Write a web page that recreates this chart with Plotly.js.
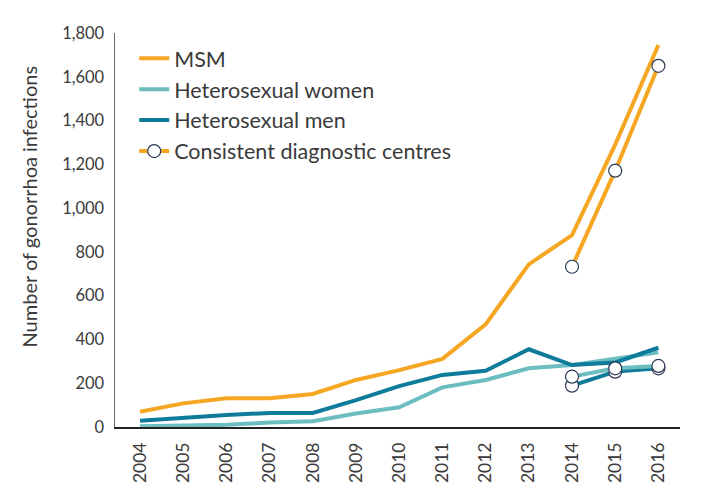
<!DOCTYPE html>
<html>
<head>
<meta charset="utf-8">
<script src="https://cdn.plot.ly/plotly-3.0.1.min.js"></script>
<style>html,body{margin:0;padding:0;background:#fff;}#chart{width:703px;height:499px;}</style>
</head>
<body>
<div id="chart"></div>
<script>
const years = [2004,2005,2006,2007,2008,2009,2010,2011,2012,2013,2014,2015,2016];
const msm = [70,108,131,131,151,215,260,311,469,743,877,1290,1745];
const heteroWomen = [3,6,10,20,26,62,90,181,215,268,283,312,341];
const heteroMen = [29,44,55,64,64,123,187,238,257,355,283,295,362];
const consistentYears = [2014,2015,2016];
const consistentMsm = [732,1171,1650];
const consistentWomen = [230,268,279];
const consistentMen = [189,253,268];
const yTitle = 'Number of gonorrhoa infections';

const cOrange = '#f5a623';
const cLight = '#6cbdc0';
const cDark = '#0f7b9a';
const marker = {symbol:'circle', size:13, color:'#ffffff', line:{color:'#2c3a57', width:1.2}};

const traces = [
  {x:years, y:msm, name:'MSM', mode:'lines', line:{color:cOrange, width:4}},
  {x:years, y:heteroWomen, name:'Heterosexual women', mode:'lines', line:{color:cLight, width:4}},
  {x:years, y:heteroMen, name:'Heterosexual men', mode:'lines', line:{color:cDark, width:4}},
  {x:consistentYears, y:consistentMen, name:'Consistent diagnostic centres', mode:'lines+markers', line:{color:cDark, width:4}, marker:marker, showlegend:false},
  {x:consistentYears, y:consistentWomen, name:'Consistent diagnostic centres', mode:'lines+markers', line:{color:cLight, width:4}, marker:marker, showlegend:false},
  {x:consistentYears, y:consistentMsm, name:'Consistent diagnostic centres', mode:'lines+markers', line:{color:cOrange, width:4}, marker:marker, showlegend:true}
];

const layout = {
  width:703, height:499,
  margin:{l:115, r:23, t:33, b:72},
  paper_bgcolor:'#ffffff', plot_bgcolor:'#ffffff',
  font:{family:'Lato, "Noto Sans", sans-serif', color:'#3a3a3a'},
  showlegend:true,
  legend:{x:0.034, y:0.988, xanchor:'left', yanchor:'top', font:{size:21.5, color:'#3a3a3a'}, bgcolor:'rgba(0,0,0,0)', traceorder:'normal'},
  xaxis:{
    range:[2003.42, 2016.5], tickmode:'array', tickvals:years, ticktext:years.map(String),
    tickangle:-90, showgrid:false, zeroline:false, showline:true, linecolor:'#222', linewidth:1.5,
    ticks:'', tickfont:{size:17.5, color:'#3a3a3a'}, ticklabelstandoff:7
  },
  yaxis:{
    range:[0,1800], dtick:200, tickformat:',', showgrid:false, zeroline:false,
    showline:true, linecolor:'#666', linewidth:1.5, ticks:'', ticklen:0,
    tickfont:{size:16.5, color:'#3a3a3a'}, ticklabelstandoff:6
  },
  annotations:[{
    text:yTitle, textangle:-90, xref:'paper', yref:'paper', x:-0.152, y:0.56,
    xanchor:'center', yanchor:'middle', showarrow:false, font:{size:20, color:'#3a3a3a'}
  }]
};
Plotly.newPlot('chart', traces, layout, {displayModeBar:false, staticPlot:true});
</script>
</body>
</html>
